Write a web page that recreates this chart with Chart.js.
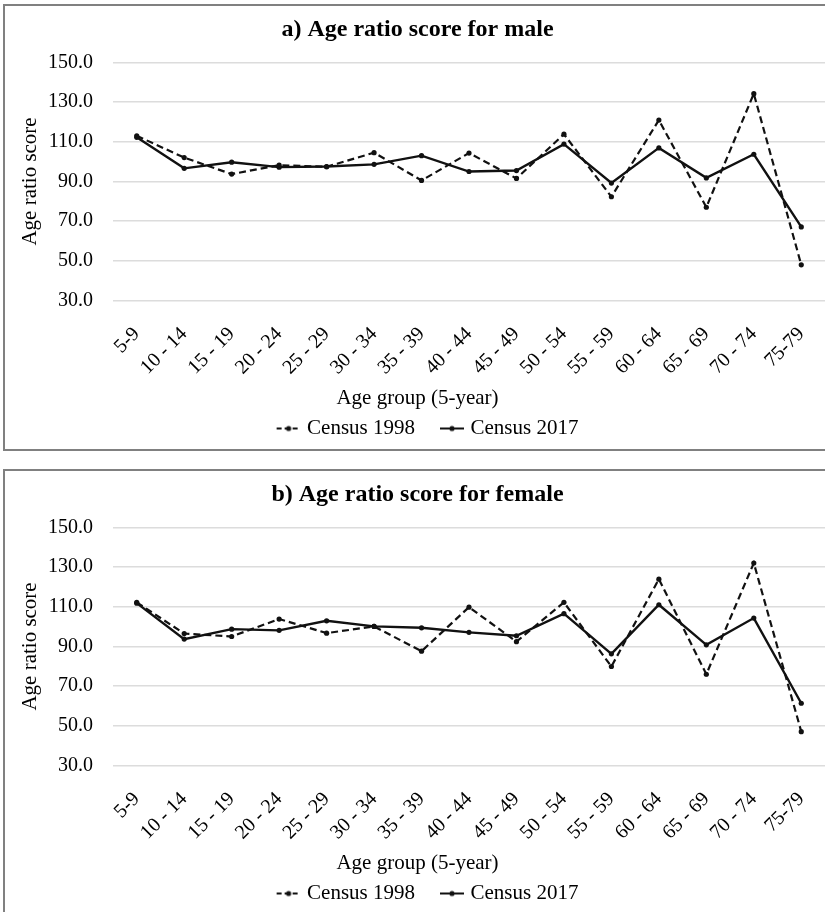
<!DOCTYPE html>
<html>
<head>
<meta charset="utf-8">
<title>Age ratio score</title>
<script src="https://cdn.jsdelivr.net/npm/chart.js@4"></script>
<style>
    html, body { margin: 0; padding: 0; background: #fff; }
    body { width: 825px; height: 912px; overflow: hidden; position: relative; }
    .box { position: absolute; left: 3px; width: 840px; height: 443px; border: 2px solid #808080; }
    canvas { position: absolute; left: 6px; }
</style>
</head>
<body>
<div class="box" style="top:4px"></div>
<div class="box" style="top:469px"></div>
<canvas id="maleChart" width="823" height="442" style="top:7px"></canvas>
<canvas id="femaleChart" width="823" height="442" style="top:472px"></canvas>
<script>
// categories and values
const ageGroups = ['5-9', '10 - 14', '15 - 19', '20 - 24', '25 - 29', '30 - 34', '35 - 39', '40 - 44',
                   '45 - 49', '50 - 54', '55 - 59', '60 - 64', '65 - 69', '70 - 74', '75-79'];
const seriesNames = ['Census 1998', 'Census 2017'];
const yTicks = [30, 50, 70, 90, 110, 130, 150];

const male1998 = [113.0, 102.0, 93.7, 98.2, 97.4, 104.5, 90.5, 104.3, 91.5, 113.8, 82.3, 120.9, 77.0, 134.2, 48.0];
const male2017 = [112.2, 96.6, 99.7, 97.2, 97.5, 98.6, 103.0, 95.0, 95.5, 108.8, 89.2, 106.9, 91.8, 103.7, 67.1];
const female1998 = [112.2, 96.5, 95.0, 103.8, 96.7, 100.1, 87.6, 109.8, 92.4, 112.2, 79.9, 123.9, 76.0, 132.0, 47.1];
const female2017 = [111.8, 93.7, 98.7, 98.1, 102.9, 100.1, 99.4, 97.1, 95.4, 106.5, 86.3, 111.0, 90.8, 104.3, 61.4];

Chart.defaults.font.family = "'Liberation Serif', 'Times New Roman', serif";
Chart.defaults.color = '#000';

// legend icons: short line with a dot, drawn at the right end of a wider canvas
// so it sits close to its text and leaves room before it
function legendIcon(dashed) {
    const c = document.createElement('canvas');
    c.width = 48;
    c.height = 8;
    const g = c.getContext('2d');
    g.strokeStyle = '#111';
    g.lineWidth = 2;
    if (dashed) g.setLineDash([5, 3]);
    g.beginPath();
    g.moveTo(24, 4);
    g.lineTo(48, 4);
    g.stroke();
    g.fillStyle = '#111';
    g.beginPath();
    g.arc(36, 4, 2.6, 0, Math.PI * 2);
    g.fill();
    return c;
}
const icons = [legendIcon(true), legendIcon(false)];

function makeChart(id, titleText, data1998, data2017) {
    const ctx = document.getElementById(id).getContext('2d');
    return new Chart(ctx, {
        type: 'line',
        data: {
            labels: ageGroups,
            datasets: [{
                label: seriesNames[0],
                data: data1998,
                borderColor: '#111',
                borderWidth: 2.2,
                borderDash: [7, 4],
                pointRadius: 2.6,
                pointBackgroundColor: '#111',
                pointBorderWidth: 0,
                tension: 0
            }, {
                label: seriesNames[1],
                data: data2017,
                borderColor: '#111',
                borderWidth: 2.4,
                pointRadius: 2.6,
                pointBackgroundColor: '#111',
                pointBorderWidth: 0,
                tension: 0
            }]
        },
        options: {
            responsive: false,
            animation: false,
            layout: { padding: 0 },
            plugins: {
                title: {
                    display: true,
                    text: titleText,
                    font: { size: 24, weight: 'bold' },
                    padding: { top: 8, bottom: 18.5 }
                },
                legend: {
                    position: 'bottom',
                    title: {
                        display: true,
                        text: 'Age group (5-year)',
                        font: { size: 21 },
                        padding: { top: 3, bottom: 0 }
                    },
                    labels: {
                        font: { size: 21 },
                        usePointStyle: true,
                        pointStyleWidth: 40,
                        padding: 5,
                        generateLabels: function(chart) {
                            const items = Chart.defaults.plugins.legend.labels.generateLabels(chart);
                            items.forEach(item => { item.pointStyle = icons[item.datasetIndex]; });
                            return items;
                        }
                    }
                },
                tooltip: { enabled: false }
            },
            scales: {
                x: {
                    offset: true,
                    grid: { display: false },
                    border: { display: false },
                    ticks: {
                        font: { size: 20 },
                        minRotation: 45,
                        maxRotation: 45,
                        autoSkip: false,
                        padding: 14
                    },
                    afterFit: function(scale) {
                        scale.height = 84.2;
                        // let the plot run to the right edge like the original
                        scale.paddingRight = 0;
                        scale.paddingLeft = 0;
                    }
                },
                y: {
                    min: yTicks[0],
                    max: yTicks[yTicks.length - 1],
                    afterBuildTicks: function(scale) {
                        scale.ticks = yTicks.map(v => ({ value: v }));
                    },
                    grid: { color: '#dcdcdc', lineWidth: 1.5, drawTicks: false },
                    border: { display: false },
                    ticks: {
                        font: { size: 20 },
                        padding: 20,
                        callback: v => v.toFixed(1)
                    },
                    title: {
                        display: true,
                        text: 'Age ratio score',
                        font: { size: 21 },
                        padding: { top: 12, bottom: 0 }
                    },
                    afterFit: function(scale) { scale.width = 107; }
                }
            }
        }
    });
}

makeChart('maleChart', 'a) Age ratio score for male', male1998, male2017);
makeChart('femaleChart', 'b) Age ratio score for female', female1998, female2017);
</script>
</body>
</html>
